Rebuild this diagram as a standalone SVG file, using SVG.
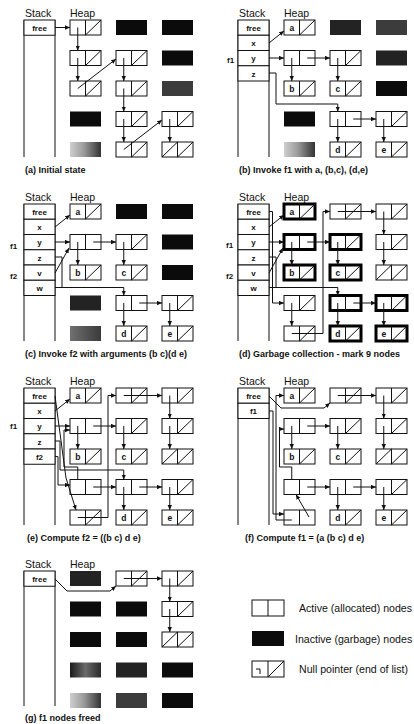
<svg xmlns="http://www.w3.org/2000/svg" width="414" height="724" viewBox="0 0 414 724">
<style>
text{font-family:"Liberation Sans",Arial,sans-serif;fill:#111}
.hd{font-size:10.5px}
.cap{font-size:9px;font-weight:bold}
.st{font-size:8px;font-weight:bold;text-anchor:middle}
.fl{font-size:8px;font-weight:bold}
.nl{font-size:8.5px;font-weight:bold;text-anchor:middle}
.lg{font-size:10.6px}
.n{fill:#fff;stroke:#111;stroke-width:1}
.t{fill:#fff;stroke:#000;stroke-width:3}
.s{fill:none;stroke:#111;stroke-width:1}
.cell{fill:#fff;stroke:#111;stroke-width:1}
.blk{fill:#0b0b0b}
.dk{fill:#232323}
.dk2{fill:#3c3c3c}
.gl{fill:url(#gl)}
.gm{fill:url(#gm)}
.gd{fill:url(#gd)}
.c path{fill:none;stroke:#111;stroke-width:1;marker-end:url(#ah)}
.c path.na{marker-end:none}
</style>
<defs>
<marker id="ah" viewBox="0 0 8 8" refX="8" refY="4" markerWidth="5" markerHeight="5" markerUnits="userSpaceOnUse" orient="auto"><path d="M0,0.5 L8,4 L0,7.5z" fill="#111"/></marker>
<linearGradient id="gl" x1="0" y1="0" x2="1" y2="0"><stop offset="0" stop-color="#cfcfcf"/><stop offset="0.45" stop-color="#9a9a9a"/><stop offset="1" stop-color="#333"/></linearGradient>
<linearGradient id="gm" x1="0" y1="0" x2="1" y2="0"><stop offset="0" stop-color="#707070"/><stop offset="1" stop-color="#3a3a3a"/></linearGradient>
<linearGradient id="gd" x1="0" y1="0" x2="1" y2="0"><stop offset="0" stop-color="#1c1c1c"/><stop offset="0.5" stop-color="#6a6a6a"/><stop offset="1" stop-color="#2a2a2a"/></linearGradient>
<g id="nd"><rect width="31" height="15" class="n"/><line x1="15.5" y1="0" x2="15.5" y2="15" class="s"/></g>
<g id="nn"><use href="#nd"/><line x1="15.5" y1="15" x2="31" y2="0" class="s"/></g>
<g id="n2"><use href="#nn"/><line x1="0" y1="15" x2="15.5" y2="0" class="s"/></g>
<g id="tT"><rect width="31" height="15" class="t"/><line x1="15.5" y1="0" x2="15.5" y2="15" class="s"/></g>
<g id="tN"><use href="#tT"/><line x1="15.5" y1="15" x2="31" y2="0" class="s"/></g>
<rect id="bk" width="31" height="15" class="blk"/>
<rect id="dk" width="31" height="15" class="dk"/>
<rect id="dk2" width="31" height="15" class="dk2"/>
<rect id="gl1" width="31" height="15" class="gl"/>
<rect id="gm1" width="31" height="15" class="gm"/>
<rect id="gd1" width="31" height="15" class="gd"/>
</defs>
<rect width="414" height="724" fill="#fff"/>

<!-- Panel A -->
<g id="panel-a">
<text x="25" y="17" class="hd">Stack</text><text x="70" y="17" class="hd">Heap</text>
<g id="a-stack"><path d="M24,20 V157 M55,20 V157" class="s"/><rect x="24" y="20" width="31" height="15.25" class="cell"/><text x="39.5" y="30.8" class="st">free</text></g>
<g id="a-r1c1" transform="translate(70,20)"><use href="#nn"/></g>
<g id="a-r1c2" transform="translate(116,20)"><use href="#bk"/></g>
<g id="a-r1c3" transform="translate(162,20)"><use href="#bk"/></g>
<g id="a-r2c1" transform="translate(70,50.5)"><use href="#nn"/></g>
<g id="a-r2c2" transform="translate(116,50.5)"><use href="#nn"/></g>
<g id="a-r2c3" transform="translate(162,50.5)"><use href="#bk"/></g>
<g id="a-r3c1" transform="translate(70,81)"><use href="#nn"/></g>
<g id="a-r3c2" transform="translate(116,81)"><use href="#nn"/></g>
<g id="a-r3c3" transform="translate(162,81)"><use href="#dk2"/></g>
<g id="a-r4c1" transform="translate(70,111.5)"><use href="#bk"/></g>
<g id="a-r4c2" transform="translate(116,111.5)"><use href="#nn"/></g>
<g id="a-r4c3" transform="translate(162,111.5)"><use href="#nn"/></g>
<g id="a-r5c1" transform="translate(70,142)"><use href="#gl1"/></g>
<g id="a-r5c2" transform="translate(116,142)"><use href="#nn"/></g>
<g id="a-r5c3" transform="translate(162,142)"><use href="#n2"/></g>
<g id="a-connectors" class="c">
<path d="M55,27.5 H70"/><path d="M77.75,27.5 V50.5"/><path d="M77.75,58 V81"/><path d="M77.75,88.5 L116,59"/>
<path d="M123.75,58 V81"/><path d="M123.75,88.5 V111.5"/><path d="M123.75,119 V142"/><path d="M123.75,149.5 L162,120"/><path d="M169.75,119 V142"/>
</g>
<text x="25" y="173" class="cap">(a) Initial state</text>
</g>

<!-- Panel B -->
<g id="panel-b" transform="translate(214,0)">
<text x="25" y="17" class="hd">Stack</text><text x="70" y="17" class="hd">Heap</text>
<g id="b-stack"><path d="M24,20 V157 M55,20 V157" class="s"/>
<rect x="24" y="20" width="31" height="15.25" class="cell"/><text x="39.5" y="30.8" class="st">free</text>
<rect x="24" y="35.25" width="31" height="15.25" class="cell"/><text x="39.5" y="46" class="st">x</text>
<rect x="24" y="50.5" width="31" height="15.25" class="cell"/><text x="39.5" y="61.3" class="st">y</text>
<rect x="24" y="65.75" width="31" height="15.25" class="cell"/><text x="39.5" y="76.5" class="st">z</text>
<text x="13" y="63" class="fl">f1</text></g>
<g id="b-r1c1" transform="translate(70,20)"><use href="#nn"/><text x="7.75" y="11" class="nl">a</text></g>
<g id="b-r1c2" transform="translate(116,20)"><use href="#dk"/></g>
<g id="b-r1c3" transform="translate(162,20)"><use href="#dk2"/></g>
<g id="b-r2c1" transform="translate(70,50.5)"><use href="#nd"/></g>
<g id="b-r2c2" transform="translate(116,50.5)"><use href="#nn"/></g>
<g id="b-r2c3" transform="translate(162,50.5)"><use href="#dk"/></g>
<g id="b-r3c1" transform="translate(70,81)"><use href="#nn"/><text x="7.75" y="11" class="nl">b</text></g>
<g id="b-r3c2" transform="translate(116,81)"><use href="#nn"/><text x="7.75" y="11" class="nl">c</text></g>
<g id="b-r3c3" transform="translate(162,81)"><use href="#bk"/></g>
<g id="b-r4c1" transform="translate(70,111.5)"><use href="#bk"/></g>
<g id="b-r4c2" transform="translate(116,111.5)"><use href="#nd"/></g>
<g id="b-r4c3" transform="translate(162,111.5)"><use href="#nn"/></g>
<g id="b-r5c1" transform="translate(70,142)"><use href="#gl1"/></g>
<g id="b-r5c2" transform="translate(116,142)"><use href="#nn"/><text x="7.75" y="11" class="nl">d</text></g>
<g id="b-r5c3" transform="translate(162,142)"><use href="#nn"/><text x="7.75" y="11" class="nl">e</text></g>
<g id="b-connectors" class="c">
<path d="M55,43 L70,31"/><path d="M55,58 H70"/><path d="M77.75,58 V81"/><path d="M93.25,58 H116"/><path d="M123.75,58 V81"/>
<path d="M55,73 H62 V104 H123.75 V111.5"/><path d="M123.75,119 V142"/><path d="M139.25,119 H162"/><path d="M169.75,119 V142"/>
</g>
<text x="25" y="173" class="cap">(b) Invoke f1 with a, (b,c), (d,e)</text>
</g>

<!-- Panel C -->
<g id="panel-c" transform="translate(0,184)">
<text x="25" y="17" class="hd">Stack</text><text x="70" y="17" class="hd">Heap</text>
<g id="c-stack"><path d="M24,20 V157 M55,20 V157" class="s"/>
<rect x="24" y="20" width="31" height="15.25" class="cell"/><text x="39.5" y="30.8" class="st">free</text>
<rect x="24" y="35.25" width="31" height="15.25" class="cell"/><text x="39.5" y="46" class="st">x</text>
<rect x="24" y="50.5" width="31" height="15.25" class="cell"/><text x="39.5" y="61.3" class="st">y</text>
<rect x="24" y="65.75" width="31" height="15.25" class="cell"/><text x="39.5" y="76.5" class="st">z</text>
<rect x="24" y="81" width="31" height="15.25" class="cell"/><text x="39.5" y="91.8" class="st">v</text>
<rect x="24" y="96.25" width="31" height="15.25" class="cell"/><text x="39.5" y="107" class="st">w</text>
<text x="10" y="65" class="fl">f1</text><text x="10" y="95" class="fl">f2</text></g>
<g id="c-r1c1" transform="translate(70,20)"><use href="#nn"/><text x="7.75" y="11" class="nl">a</text></g>
<g id="c-r1c2" transform="translate(116,20)"><use href="#bk"/></g>
<g id="c-r1c3" transform="translate(162,20)"><use href="#bk"/></g>
<g id="c-r2c1" transform="translate(70,50.5)"><use href="#nd"/></g>
<g id="c-r2c2" transform="translate(116,50.5)"><use href="#nn"/></g>
<g id="c-r2c3" transform="translate(162,50.5)"><use href="#bk"/></g>
<g id="c-r3c1" transform="translate(70,81)"><use href="#nn"/><text x="7.75" y="11" class="nl">b</text></g>
<g id="c-r3c2" transform="translate(116,81)"><use href="#nn"/><text x="7.75" y="11" class="nl">c</text></g>
<g id="c-r3c3" transform="translate(162,81)"><use href="#bk"/></g>
<g id="c-r4c1" transform="translate(70,111.5)"><use href="#dk"/></g>
<g id="c-r4c2" transform="translate(116,111.5)"><use href="#nd"/></g>
<g id="c-r4c3" transform="translate(162,111.5)"><use href="#nn"/></g>
<g id="c-r5c1" transform="translate(70,142)"><use href="#gm1"/></g>
<g id="c-r5c2" transform="translate(116,142)"><use href="#nn"/><text x="7.75" y="11" class="nl">d</text></g>
<g id="c-r5c3" transform="translate(162,142)"><use href="#nn"/><text x="7.75" y="11" class="nl">e</text></g>
<g id="c-connectors" class="c">
<path d="M55,43 L70,31"/><path d="M55,58 H70"/><path d="M77.75,58 V81"/><path d="M93.25,58 H116"/><path d="M123.75,58 V81"/>
<path d="M55,89 L69,64"/><path d="M55,73 H62 V103.5 H123.75 V111.5"/><path class="na" d="M55,103.5 H62"/>
<path d="M123.75,119 V142"/><path d="M139.25,119 H162"/><path d="M169.75,119 V142"/>
</g>
<text x="25" y="173" class="cap">(c) Invoke f2 with arguments (b c)(d e)</text>
</g>

<!-- Panel D -->
<g id="panel-d" transform="translate(214,184)">
<text x="25" y="17" class="hd">Stack</text><text x="70" y="17" class="hd">Heap</text>
<g id="d-stack"><path d="M24,20 V157 M55,20 V157" class="s"/>
<rect x="24" y="20" width="31" height="15.25" class="cell"/><text x="39.5" y="30.8" class="st">free</text>
<rect x="24" y="35.25" width="31" height="15.25" class="cell"/><text x="39.5" y="46" class="st">x</text>
<rect x="24" y="50.5" width="31" height="15.25" class="cell"/><text x="39.5" y="61.3" class="st">y</text>
<rect x="24" y="65.75" width="31" height="15.25" class="cell"/><text x="39.5" y="76.5" class="st">z</text>
<rect x="24" y="81" width="31" height="15.25" class="cell"/><text x="39.5" y="91.8" class="st">v</text>
<rect x="24" y="96.25" width="31" height="15.25" class="cell"/><text x="39.5" y="107" class="st">w</text>
<text x="12" y="64" class="fl">f1</text><text x="12" y="95" class="fl">f2</text></g>
<g id="d-r1c1" transform="translate(70,20)"><use href="#tN"/><text x="7.75" y="11" class="nl">a</text></g>
<g id="d-r1c2" transform="translate(116,20)"><use href="#nn"/></g>
<g id="d-r1c3" transform="translate(162,20)"><use href="#nn"/></g>
<g id="d-r2c1" transform="translate(70,50.5)"><use href="#tT"/></g>
<g id="d-r2c2" transform="translate(116,50.5)"><use href="#tN"/></g>
<g id="d-r2c3" transform="translate(162,50.5)"><use href="#nn"/></g>
<g id="d-r3c1" transform="translate(70,81)"><use href="#tN"/><text x="7.75" y="11" class="nl">b</text></g>
<g id="d-r3c2" transform="translate(116,81)"><use href="#tN"/><text x="7.75" y="11" class="nl">c</text></g>
<g id="d-r3c3" transform="translate(162,81)"><use href="#n2"/></g>
<g id="d-r4c1" transform="translate(70,111.5)"><use href="#nn"/></g>
<g id="d-r4c2" transform="translate(116,111.5)"><use href="#tT"/></g>
<g id="d-r4c3" transform="translate(162,111.5)"><use href="#tN"/></g>
<g id="d-r5c1" transform="translate(70,142)"><use href="#nn"/></g>
<g id="d-r5c2" transform="translate(116,142)"><use href="#tN"/><text x="7.75" y="11" class="nl">d</text></g>
<g id="d-r5c3" transform="translate(162,142)"><use href="#tN"/><text x="7.75" y="11" class="nl">e</text></g>
<g id="d-connectors" class="c">
<path d="M55,27.5 H58.5 V119 H70"/>
<path d="M55,43 L70,31"/><path d="M55,58 H70"/><path d="M77.75,58 V81"/><path d="M93.25,58 H116"/><path d="M123.75,58 V81"/>
<path d="M55,89 L69,64"/><path d="M55,73 H62 V103.5 H123.75 V111.5"/><path class="na" d="M55,103.5 H62"/>
<path d="M123.75,27.5 H162"/><path d="M169.75,27.5 V50.5"/><path d="M169.75,58 V81"/>
<path d="M77.75,119 V142"/><path d="M77.75,149.5 H109 V27.5 H116"/>
<path d="M123.75,119 V142"/><path d="M139.25,119 H162"/><path d="M169.75,119 V142"/>
</g>
<text x="25" y="173" class="cap">(d) Garbage collection - mark 9 nodes</text>
</g>

<!-- Panel E -->
<g id="panel-e" transform="translate(0,368)">
<text x="25" y="17" class="hd">Stack</text><text x="70" y="17" class="hd">Heap</text>
<g id="e-stack"><path d="M24,20 V157 M55,20 V157" class="s"/>
<rect x="24" y="20" width="31" height="15.25" class="cell"/><text x="39.5" y="30.8" class="st">free</text>
<rect x="24" y="35.25" width="31" height="15.25" class="cell"/><text x="39.5" y="46" class="st">x</text>
<rect x="24" y="50.5" width="31" height="15.25" class="cell"/><text x="39.5" y="61.3" class="st">y</text>
<rect x="24" y="65.75" width="31" height="15.25" class="cell"/><text x="39.5" y="76.5" class="st">z</text>
<rect x="24" y="81" width="31" height="15.25" class="cell"/><text x="39.5" y="91.8" class="st">f2</text>
<text x="10" y="61" class="fl">f1</text></g>
<g id="e-r1c1" transform="translate(70,20)"><use href="#nn"/><text x="7.75" y="11" class="nl">a</text></g>
<g id="e-r1c2" transform="translate(116,20)"><use href="#nn"/></g>
<g id="e-r1c3" transform="translate(162,20)"><use href="#nn"/></g>
<g id="e-r2c1" transform="translate(70,50.5)"><use href="#nd"/></g>
<g id="e-r2c2" transform="translate(116,50.5)"><use href="#nn"/></g>
<g id="e-r2c3" transform="translate(162,50.5)"><use href="#nn"/></g>
<g id="e-r3c1" transform="translate(70,81)"><use href="#nn"/><text x="7.75" y="11" class="nl">b</text></g>
<g id="e-r3c2" transform="translate(116,81)"><use href="#nn"/><text x="7.75" y="11" class="nl">c</text></g>
<g id="e-r3c3" transform="translate(162,81)"><use href="#n2"/></g>
<g id="e-r4c1" transform="translate(70,111.5)"><use href="#nd"/></g>
<g id="e-r4c2" transform="translate(116,111.5)"><use href="#nd"/></g>
<g id="e-r4c3" transform="translate(162,111.5)"><use href="#nn"/></g>
<g id="e-r5c1" transform="translate(70,142)"><use href="#nn"/></g>
<g id="e-r5c2" transform="translate(116,142)"><use href="#nn"/><text x="7.75" y="11" class="nl">d</text></g>
<g id="e-r5c3" transform="translate(162,142)"><use href="#nn"/><text x="7.75" y="11" class="nl">e</text></g>
<g id="e-connectors" class="c">
<path d="M55,28 L66,110 L76,142"/>
<path d="M55,43 L70,31"/><path d="M55,58 H70"/><path d="M77.75,58 V81"/><path d="M93.25,58 H116"/><path d="M123.75,58 V81"/>
<path d="M55,73 H60 V102 H123.75 V111.5"/>
<path d="M55,88.6 H58 V117 H70"/>
<path d="M77.75,111.5 V99 H64 V62 H70"/>
<path d="M93.25,119 H116"/>
<path d="M123.75,27.5 H162"/><path d="M169.75,27.5 V50.5"/><path d="M169.75,58 V81"/>
<path d="M77.75,149.5 H108 V27.5 H116"/>
<path d="M123.75,119 V142"/><path d="M139.25,119 H162"/><path d="M169.75,119 V142"/>
</g>
<text x="27" y="173" class="cap">(e) Compute f2 = ((b c) d e)</text>
</g>

<!-- Panel F -->
<g id="panel-f" transform="translate(214,368)">
<text x="25" y="17" class="hd">Stack</text><text x="70" y="17" class="hd">Heap</text>
<g id="f-stack"><path d="M24,20 V157 M55,20 V157" class="s"/>
<rect x="24" y="20" width="31" height="15.25" class="cell"/><text x="39.5" y="30.8" class="st">free</text>
<rect x="24" y="35.25" width="31" height="15.25" class="cell"/><text x="39.5" y="46" class="st">f1</text></g>
<g id="f-r1c1" transform="translate(70,20)"><use href="#nn"/><text x="7.75" y="11" class="nl">a</text></g>
<g id="f-r1c2" transform="translate(116,20)"><use href="#nn"/></g>
<g id="f-r1c3" transform="translate(162,20)"><use href="#nn"/></g>
<g id="f-r2c1" transform="translate(70,50.5)"><use href="#nd"/></g>
<g id="f-r2c2" transform="translate(116,50.5)"><use href="#nn"/></g>
<g id="f-r2c3" transform="translate(162,50.5)"><use href="#nn"/></g>
<g id="f-r3c1" transform="translate(70,81)"><use href="#nn"/><text x="7.75" y="11" class="nl">b</text></g>
<g id="f-r3c2" transform="translate(116,81)"><use href="#nn"/><text x="7.75" y="11" class="nl">c</text></g>
<g id="f-r3c3" transform="translate(162,81)"><use href="#n2"/></g>
<g id="f-r4c1" transform="translate(70,111.5)"><use href="#nd"/></g>
<g id="f-r4c2" transform="translate(116,111.5)"><use href="#nd"/></g>
<g id="f-r4c3" transform="translate(162,111.5)"><use href="#nn"/></g>
<g id="f-r5c1" transform="translate(70,142)"><use href="#nd"/></g>
<g id="f-r5c2" transform="translate(116,142)"><use href="#nn"/><text x="7.75" y="11" class="nl">d</text></g>
<g id="f-r5c3" transform="translate(162,142)"><use href="#nn"/><text x="7.75" y="11" class="nl">e</text></g>
<g id="f-connectors" class="c">
<path d="M55,28 L67,40 H110 L116,35"/>
<path d="M55,43 H59 V146 H70"/>
<path d="M77.75,152 H62 V27.5 H70"/>
<path d="M77.75,111.5 V99 H65.5 V61 H70"/>
<path d="M95,149 L82,126.5"/>
<path d="M93.25,119 H116"/>
<path d="M77.75,58 V81"/><path d="M93.25,58 H116"/><path d="M123.75,58 V81"/>
<path d="M123.75,27.5 H162"/><path d="M169.75,27.5 V50.5"/><path d="M169.75,58 V81"/>
<path d="M123.75,119 V142"/><path d="M139.25,119 H162"/><path d="M169.75,119 V142"/>
</g>
<text x="31" y="173" class="cap">(f) Compute f1 = (a (b c) d e)</text>
</g>

<!-- Panel G -->
<g id="panel-g" transform="translate(0,551)">
<text x="25" y="17" class="hd">Stack</text><text x="70" y="17" class="hd">Heap</text>
<g id="g-stack"><path d="M24,20 V155 M55,20 V155" class="s"/>
<rect x="24" y="20" width="31" height="15.25" class="cell"/><text x="39.5" y="30.8" class="st">free</text></g>
<g id="g-r1c1" transform="translate(70,20)"><use href="#dk"/></g>
<g id="g-r1c2" transform="translate(116,20)"><use href="#nn"/></g>
<g id="g-r1c3" transform="translate(162,20)"><use href="#nn"/></g>
<g id="g-r2c1" transform="translate(70,50.5)"><use href="#bk"/></g>
<g id="g-r2c2" transform="translate(116,50.5)"><use href="#bk"/></g>
<g id="g-r2c3" transform="translate(162,50.5)"><use href="#nn"/></g>
<g id="g-r3c1" transform="translate(70,81)"><use href="#bk"/></g>
<g id="g-r3c2" transform="translate(116,81)"><use href="#bk"/></g>
<g id="g-r3c3" transform="translate(162,81)"><use href="#n2"/></g>
<g id="g-r4c1" transform="translate(70,111.5)"><use href="#gd1"/></g>
<g id="g-r4c2" transform="translate(116,111.5)"><use href="#dk"/></g>
<g id="g-r4c3" transform="translate(162,111.5)"><use href="#bk"/></g>
<g id="g-r5c1" transform="translate(70,142)"><use href="#gl1"/></g>
<g id="g-r5c2" transform="translate(116,142)"><use href="#dk2"/></g>
<g id="g-r5c3" transform="translate(162,142)"><use href="#bk"/></g>
<g id="g-connectors" class="c">
<path d="M55,28 L67,40 H110 L116,35"/>
<path d="M123.75,27.5 H162"/><path d="M169.75,27.5 V50.5"/><path d="M169.75,58 V81"/>
</g>
<text x="25" y="170" class="cap">(g) f1 nodes freed</text>
</g>

<!-- Legend -->
<g id="legend">
<g id="legend-active" transform="translate(252,600)"><rect width="32" height="16" class="n"/><line x1="16" y1="0" x2="16" y2="16" class="s"/></g>
<text x="299" y="612" class="lg">Active (allocated) nodes</text>
<g id="legend-inactive" transform="translate(252,631)"><rect width="32" height="15" class="blk"/></g>
<text x="295" y="643" class="lg">Inactive (garbage) nodes</text>
<g id="legend-null" transform="translate(252,661)"><rect width="32" height="16" class="n"/><line x1="16" y1="0" x2="16" y2="16" class="s"/><line x1="16" y1="16" x2="32" y2="0" class="s"/><path d="M4,8 H8 V13" class="s"/></g>
<text x="299" y="673" class="lg">Null pointer (end of list)</text>
</g>
</svg>
